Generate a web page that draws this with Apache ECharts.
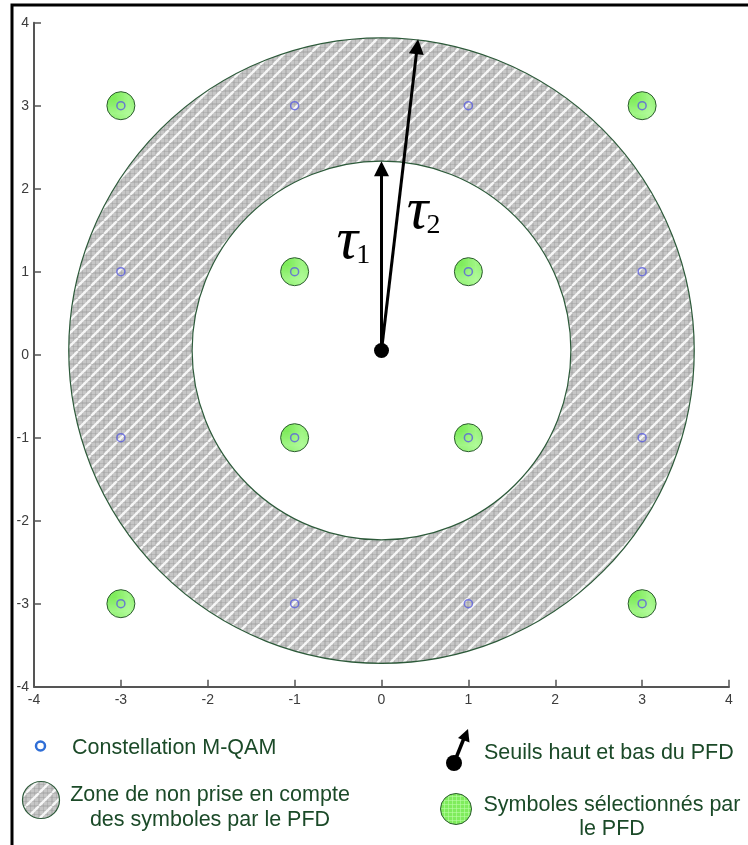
<!DOCTYPE html>
<html>
<head>
<meta charset="utf-8">
<script src="https://cdn.jsdelivr.net/npm/echarts@6/dist/echarts.min.js"></script>
<style>
  html, body { margin: 0; padding: 0; background: #fff; }
  #chart { width: 748px; height: 845px; }
</style>
</head>
<body>
<div id="chart"></div>
<script>
// axis range
var axisMin = -4;
var axisMax = 4;

// 16-QAM constellation points
var constellation = [
    [-3, 3], [-1, 3], [1, 3], [3, 3],
    [-3, 1], [-1, 1], [1, 1], [3, 1],
    [-3, -1], [-1, -1], [1, -1], [3, -1],
    [-3, -3], [-1, -3], [1, -3], [3, -3]
];

// symbols kept by the PFD
var selected = [[-3, 3], [3, 3], [-1, 1], [1, 1], [-1, -1], [1, -1], [-3, -3], [3, -3]];

// PFD centre and thresholds (radius in x units)
var pfdCenter = [0, 0.05];
var tau1 = 2.18;
var tau2 = 3.6;

// threshold arrows: start -> arrow head
var thresholdArrows = [
    [[0, 0.05], [0, 2.24]],
    [[0, 0.05], [0.411, 3.71]]
];

var fontSans = "'Liberation Sans', Arial, sans-serif";
var fontTick = "'Liberation Sans Narrow', 'Liberation Sans', Arial, sans-serif";
var legendColor = '#1b4a28';

function makeHatch() {
    var s = 13;
    var c = document.createElement('canvas');
    c.width = s; c.height = s;
    var g = c.getContext('2d');
    g.fillStyle = '#c6c6c6';
    g.fillRect(0, 0, s, s);
    g.strokeStyle = 'rgba(150,150,150,0.35)';
    g.lineWidth = 1;
    for (var i = 0; i < s; i += 4) {
        g.beginPath(); g.moveTo(i + 0.5, 0); g.lineTo(i + 0.5, s); g.stroke();
        g.beginPath(); g.moveTo(0, i + 0.5); g.lineTo(s, i + 0.5); g.stroke();
    }
    g.strokeStyle = 'rgba(255,255,255,0.85)';
    g.lineWidth = 2.4;
    [-s, 0, s].forEach(function (o) {
        g.beginPath(); g.moveTo(o, s); g.lineTo(o + s, 0); g.stroke();
    });
    return c;
}

function makeGreen() {
    var c = document.createElement('canvas');
    c.width = 4; c.height = 4;
    var g = c.getContext('2d');
    g.fillStyle = '#7fec5c';
    g.fillRect(0, 0, 4, 4);
    g.fillStyle = 'rgba(190,255,170,0.55)';
    g.fillRect(0, 0, 4, 1);
    g.fillRect(0, 0, 1, 4);
    return c;
}

var hatch = { image: makeHatch(), repeat: 'repeat' };
var green = { image: makeGreen(), repeat: 'repeat' };

var chart = echarts.init(document.getElementById('chart'));

var axisCommon = {
    type: 'value',
    min: axisMin,
    max: axisMax,
    interval: 1,
    axisLine: { show: true, onZero: false, lineStyle: { color: '#555', width: 2 } },
    axisTick: { show: true, inside: true, length: 7, lineStyle: { color: '#555', width: 1.5 } },
    splitLine: { show: false },
    axisLabel: { color: '#3c3c3c', fontSize: 14, fontFamily: fontTick }
};

var option = {
    animation: false,
    backgroundColor: '#fff',
    grid: { left: 34, right: 19, top: 22.7, bottom: 158.3 },
    xAxis: echarts.util.merge({ axisLabel: { margin: 6 } }, axisCommon),
    yAxis: echarts.util.merge({ axisLabel: { margin: 5 } }, axisCommon),
    series: [
        {
            name: 'zone',
            type: 'custom',
            z: 1,
            encode: { x: 0, y: 1 },
            data: [[pfdCenter[0], pfdCenter[1], tau1, tau2]],
            renderItem: function (params, api) {
                var c = api.coord([api.value(0), api.value(1)]);
                var r0 = api.size([api.value(2), 0])[0];
                var r = api.size([api.value(3), 0])[0];
                return {
                    type: 'ring',
                    shape: { cx: c[0], cy: c[1], r: r, r0: r0 },
                    style: { fill: hatch, stroke: '#2d5a3a', lineWidth: 1.2 }
                };
            }
        },
        {
            name: 'selected',
            type: 'scatter',
            z: 2,
            symbol: 'circle',
            symbolSize: 28,
            itemStyle: { color: green, borderColor: '#2c5b2f', borderWidth: 1, opacity: 1 },
            data: selected
        },
        {
            name: 'constellation',
            type: 'scatter',
            z: 3,
            symbol: 'circle',
            symbolSize: 8,
            itemStyle: { color: 'rgba(0,0,0,0)', borderColor: '#5a5ee0', borderWidth: 1.5, opacity: 0.8 },
            data: constellation
        },
        {
            name: 'thresholds',
            type: 'lines',
            coordinateSystem: 'cartesian2d',
            z: 4,
            symbol: ['none', 'triangle'],
            symbolSize: 15,
            lineStyle: { color: '#000', width: 3, opacity: 1 },
            data: thresholdArrows.map(function (a) { return { coords: a }; })
        },
        {
            name: 'center',
            type: 'scatter',
            z: 5,
            symbol: 'circle',
            symbolSize: 15,
            itemStyle: { color: '#000', opacity: 1 },
            data: [pfdCenter]
        },
        {
            name: 'tau',
            type: 'custom',
            z: 6,
            encode: { x: 0, y: 1 },
            data: [[-0.394, 1.36, 1], [0.414, 1.72, 2]],
            renderItem: function (params, api) {
                var c = api.coord([api.value(0), api.value(1)]);
                return {
                    type: 'group',
                    children: [
                        {
                            type: 'text',
                            style: {
                                text: 'τ', x: c[0], y: c[1], fill: '#000',
                                font: "italic 60px 'Liberation Serif', 'Times New Roman', serif",
                                align: 'center', verticalAlign: 'middle'
                            }
                        },
                        {
                            type: 'text',
                            style: {
                                text: String(api.value(2)), x: c[0] + 16, y: c[1] + 14, fill: '#000',
                                font: "28px 'Liberation Serif', 'Times New Roman', serif",
                                align: 'center', verticalAlign: 'middle'
                            }
                        }
                    ]
                };
            }
        }
    ],
    graphic: [
        {
            type: 'rect',
            shape: { x: 12, y: 5, width: 800, height: 900 },
            style: { fill: 'none', stroke: '#000', lineWidth: 3 },
            z: 10
        },
        // legend: constellation
        {
            type: 'circle',
            shape: { cx: 40.5, cy: 746, r: 4.5 },
            style: { fill: '#fff', stroke: '#2f6ed6', lineWidth: 2.5 }
        },
        {
            type: 'text',
            style: {
                text: 'Constellation M-QAM', x: 72, y: 748, fill: legendColor,
                font: '21.5px ' + fontSans, align: 'left', verticalAlign: 'middle'
            }
        },
        // legend: zone
        {
            type: 'circle',
            shape: { cx: 41, cy: 800, r: 18.5 },
            style: { fill: hatch, stroke: '#2d5a3a', lineWidth: 1.2 }
        },
        {
            type: 'text',
            style: {
                text: 'Zone de non prise en compte\ndes symboles par le PFD', x: 210, y: 808,
                fill: legendColor, font: '21.5px ' + fontSans, lineHeight: 25,
                align: 'center', verticalAlign: 'middle'
            }
        },
        // legend: thresholds
        {
            type: 'line',
            shape: { x1: 454, y1: 763, x2: 464.5, y2: 737 },
            style: { stroke: '#000', lineWidth: 3.5 }
        },
        {
            type: 'polygon',
            shape: { points: [[468, 729], [469.5, 742.5], [458, 738]] },
            style: { fill: '#000' }
        },
        {
            type: 'circle',
            shape: { cx: 454, cy: 763, r: 8 },
            style: { fill: '#000' }
        },
        {
            type: 'text',
            style: {
                text: 'Seuils haut et bas du PFD', x: 484, y: 753, fill: legendColor,
                font: '21.5px ' + fontSans, align: 'left', verticalAlign: 'middle'
            }
        },
        // legend: selected symbols
        {
            type: 'circle',
            shape: { cx: 456, cy: 809, r: 15.5 },
            style: { fill: green, stroke: '#2c5b2f', lineWidth: 1 }
        },
        {
            type: 'text',
            style: {
                text: 'Symboles sélectionnés par\nle PFD', x: 612, y: 817,
                fill: legendColor, font: '21.5px ' + fontSans, lineHeight: 24,
                align: 'center', verticalAlign: 'middle'
            }
        }
    ]
};

chart.setOption(option);
</script>
</body>
</html>
